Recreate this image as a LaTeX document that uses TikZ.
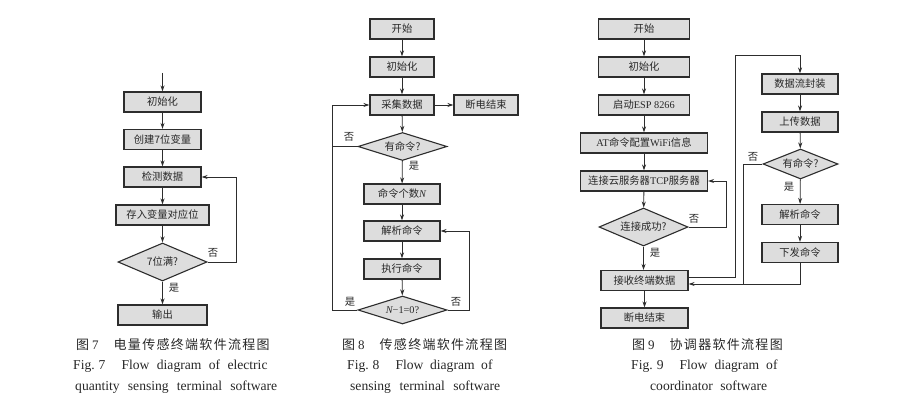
\documentclass[tikz,border=0pt]{standalone}
\usepackage{fontspec}
\setmainfont{Liberation Serif}
\newfontfamily\cjk{Noto Sans CJK SC}
\newfontfamily\cjkcap[LetterSpace=10]{Noto Sans CJK SC}
\usetikzlibrary{shapes.geometric,arrows.meta}
\definecolor{boxfill}{RGB}{221,221,221}
\definecolor{linec}{RGB}{45,45,45}
\definecolor{txtc}{RGB}{40,40,40}
\newcommand{\boxfont}{\fontsize{10.3}{12}\selectfont\cjk\color{txtc}}
\newcommand{\capfont}{\fontsize{13}{15}\selectfont\color{txtc}}
\newcommand{\capenfont}{\fontsize{13.6}{15}\selectfont\color{txtc}}
\tikzset{
  fbox/.style={draw=linec, fill=boxfill, line width=1.1pt, minimum height=20pt,
    inner sep=0pt, font=\boxfont},
  fdia/.style={diamond, draw=linec, fill=boxfill, line width=1.1pt, inner sep=0pt,
    font=\boxfont},
  arr/.style={-{Stealth[length=6pt,width=4pt]}, line width=0.8pt, draw=linec},
  ln/.style={line width=0.8pt, draw=linec},
  lbl/.style={inner sep=0pt, font=\boxfont},
  capcn/.style={inner sep=0pt, anchor=base west, font=\capfont},
  capen/.style={inner sep=0pt, anchor=base west, font=\capenfont},
}
\begin{document}
\begin{tikzpicture}[x=1pt,y=-1pt]
\useasboundingbox (0,0) rectangle (912,403);
\fill[white] (0,0) rectangle (912,403);
% ---------------- Figure 7 ----------------
\coordinate (f7s) at (162.5,73);
\node[fbox, minimum width=77pt] (f7a) at (162.5,102) {初始化};
\node[fbox, minimum width=77pt] (f7b) at (162.5,139.5) {创建7位变量};
\node[fbox, minimum width=77pt] (f7c) at (162.5,177) {检测数据};
\node[fbox, minimum width=93pt] (f7d) at (162.5,215) {存入变量对应位};
\node[fdia, minimum width=89pt, minimum height=38pt, shape aspect=2.34] (f7e) at (162.5,262) {7位满?};
\node[fbox, minimum width=89pt] (f7f) at (162.5,315) {输出};
\draw[arr] (f7s) -- (f7a);
\draw[arr] (f7a) -- (f7b);
\draw[arr] (f7b) -- (f7c);
\draw[arr] (f7c) -- (f7d);
\draw[arr] (f7d) -- (f7e);
\draw[arr] (f7e) -- (f7f);
\draw[arr] (f7e.east) -- ++(29,0) |- (f7c.east);
\node[lbl] (f7no) at (213,253) {否};
\node[lbl] (f7yes) at (174,288) {是};
% ---------------- Figure 8 ----------------
\node[fbox, minimum width=64pt] (f8a) at (402,29) {开始};
\node[fbox, minimum width=64pt] (f8b) at (402,67) {初始化};
\node[fbox, minimum width=64pt] (f8c) at (402,105) {采集数据};
\node[fbox, minimum width=64pt] (f8d) at (486,105) {断电结束};
\node[fdia, minimum width=89pt, minimum height=28pt, shape aspect=3.18] (f8e) at (402.5,146.5) {有命令?};
\node[fbox, minimum width=76pt] (f8f) at (402,194) {命令个数{\rmfamily\itshape N}};
\node[fbox, minimum width=76pt] (f8g) at (402,231) {解析命令};
\node[fbox, minimum width=76pt] (f8h) at (402,269) {执行命令};
\node[fdia, minimum width=89pt, minimum height=28pt, shape aspect=3.18] (f8i) at (402.5,310) {\rmfamily\itshape N\upshape−1=0?};
\draw[arr] (f8a) -- (f8b);
\draw[arr] (f8b) -- (f8c);
\draw[arr] (f8c) -- (f8d);
\draw[arr] (f8c) -- (f8e);
\draw[arr] (f8e) -- (f8f);
\draw[arr] (f8f) -- (f8g);
\draw[arr] (f8g) -- (f8h);
\draw[arr] (f8h) -- (f8i);
\draw[arr] (f8i.west) -- (332,310) |- (f8c.west);
\draw[ln] (f8e.west) -- (332,146.5);
\draw[arr] (f8i.east) -- (469,310) |- (f8g.east);
\node[lbl] (f8no1) at (349,137) {否};
\node[lbl] (f8yes1) at (414,166) {是};
\node[lbl] (f8yes2) at (350,302) {是};
\node[lbl] (f8no2) at (456,302) {否};
% ---------------- Figure 9 ----------------
\node[fbox, minimum width=91pt] (f9a) at (644,29) {开始};
\node[fbox, minimum width=91pt] (f9b) at (644,67) {初始化};
\node[fbox, minimum width=91pt] (f9c) at (644,105) {启动{\rmfamily ESP 8266}};
\node[fbox, minimum width=127pt] (f9d) at (644,143) {{\rmfamily AT}命令配置{\rmfamily WiFi}信息};
\node[fbox, minimum width=127pt] (f9e) at (644,181) {连接云服务器{\rmfamily TCP}服务器};
\node[fdia, minimum width=89pt, minimum height=38pt, shape aspect=2.34] (f9f) at (643.5,227) {连接成功?};
\node[fbox, minimum width=87pt] (f9g) at (644.5,280.5) {接收终端数据};
\node[fbox, minimum width=87pt] (f9h) at (644.5,318) {断电结束};
\node[fbox, minimum width=76pt] (f9i) at (800,84) {数据流封装};
\node[fbox, minimum width=76pt] (f9j) at (800,122) {上传数据};
\node[fdia, minimum width=75pt, minimum height=30pt, shape aspect=2.5] (f9k) at (800.5,164) {有命令?};
\node[fbox, minimum width=76pt] (f9l) at (800,214.5) {解析命令};
\node[fbox, minimum width=76pt] (f9m) at (800,252.5) {下发命令};
\draw[arr] (f9a) -- (f9b);
\draw[arr] (f9b) -- (f9c);
\draw[arr] (f9c) -- (f9d);
\draw[arr] (f9d) -- (f9e);
\draw[arr] (f9e) -- (f9f);
\draw[arr] (f9f.south) -- (f9f.south |- f9g.north);
\draw[arr] (f9g.south -| f9h.north) -- (f9h.north);
\draw[arr] (f9f.east) -- (726,227) |- (f9e.east);
\draw[arr] ([yshift=3.5pt]f9g.east) -- (735,277) -- (735,55) -| (f9i.north);
\draw[arr] (f9i) -- (f9j);
\draw[arr] (f9j) -- (f9k);
\draw[arr] (f9k) -- (f9l);
\draw[arr] (f9l) -- (f9m);
\draw[ln] (f9k.west) -- (743,164) -- (743,284);
\draw[arr] (f9m.south) |- ([yshift=-3.5pt]f9g.east);
\node[lbl] (f9no1) at (694,219) {否};
\node[lbl] (f9yes1) at (655,253) {是};
\node[lbl] (f9no2) at (753,157) {否};
\node[lbl] (f9yes2) at (789,187) {是};
% ---------------- Captions ----------------
\node[capcn] (c7a) at (76,349) {{\cjkcap 图}\hspace{3pt}7\hspace{15pt}{\cjkcap 电量传感终端软件流程图}};
\node[capen] (c7b) at (73,369) {Fig.\hspace{4pt}7\hspace{16pt}\makebox[146pt][s]{Flow diagram of electric}};
\node[capen] (c7c) at (75,390) {\makebox[202pt][s]{quantity sensing terminal software}};
\node[capcn] (c8a) at (342,349) {{\cjkcap 图}\hspace{3pt}8\hspace{15pt}{\cjkcap 传感终端软件流程图}};
\node[capen] (c8b) at (347,369) {Fig.\hspace{4pt}8\hspace{16pt}\makebox[97pt][s]{Flow diagram of}};
\node[capen] (c8c) at (350,390) {\makebox[150pt][s]{sensing terminal software}};
\node[capcn] (c9a) at (632,349) {{\cjkcap 图}\hspace{3pt}9\hspace{15pt}{\cjkcap 协调器软件流程图}};
\node[capen] (c9b) at (631,369) {Fig.\hspace{4pt}9\hspace{16pt}\makebox[98pt][s]{Flow diagram of}};
\node[capen] (c9c) at (650,390) {\makebox[117pt][s]{coordinator software}};
\end{tikzpicture}
\end{document}
